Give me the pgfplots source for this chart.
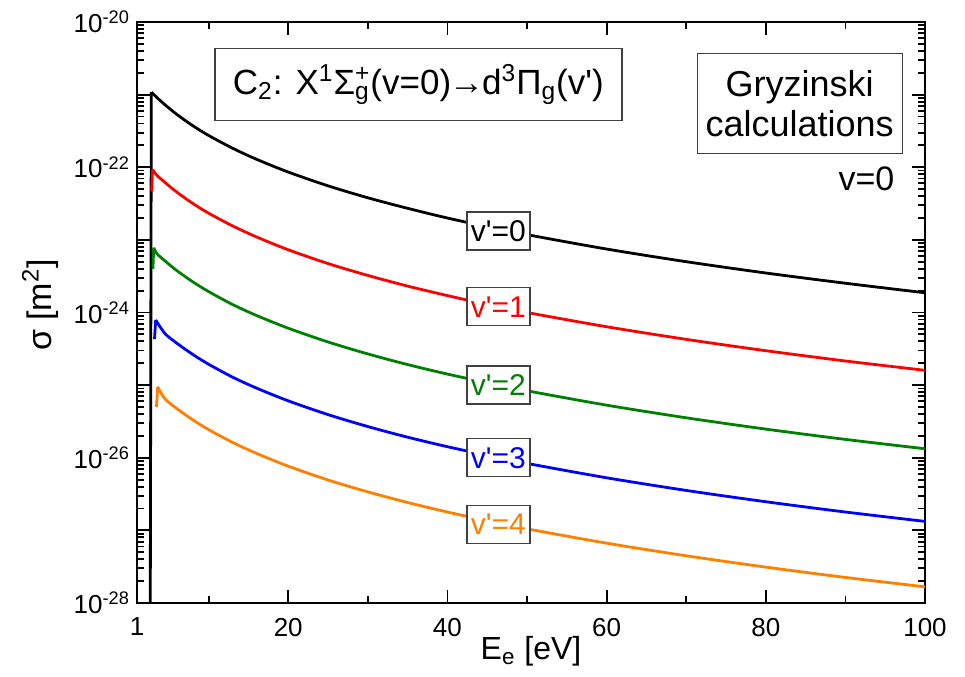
\documentclass[border=0pt]{standalone}
\usepackage{fontspec}
\setmainfont{Liberation Sans}
\usepackage{pgfplots}
\pgfplotsset{compat=1.18}
\usetikzlibrary{calc}
\definecolor{cgreen}{RGB}{0,128,0}
\definecolor{corange}{RGB}{255,128,0}
\newcommand\q{\textquotesingle}
\newcommand\fs[1]{\fontsize{#1}{#1}\selectfont}
\newcommand\supsub[2]{\rlap{\textsubscript{#2}}\textsuperscript{#1}}

\begin{document}
\begin{tikzpicture}
\begin{axis}[
    name=ax,
    width=394pt, height=290.5pt, scale only axis,
    xmin=1, xmax=100,
    ymode=log, ymin=1e-28, ymax=1e-20,
    xtick={1,20,40,60,80,100},
    xticklabels={1,20,40,60,80,100},
    minor xtick={10,30,50,70,90},
    ytickten={-28,-27,...,-20},
    yticklabels={10\textsuperscript{-28},,10\textsuperscript{-26},,10\textsuperscript{-24},,10\textsuperscript{-22},,10\textsuperscript{-20}},
    tick align=inside,
    major tick length=6.5pt, minor tick length=3.5pt,
    axis line style={line width=1.4pt},
    tick style={black, line width=0.9pt},
    tick label style={font=\fs{13}},
    xticklabel style={yshift=-4pt},
    xlabel={E\textsubscript{e} [eV]},
    xlabel style={font=\fs{16}, at={(axis description cs:0.5,0)}, anchor=north, yshift=-13pt},
    ylabel={σ [m\textsuperscript{2}]},
    ylabel style={font=\fs{17}, at={(axis description cs:-0.123,0.513)}, anchor=center},
    every axis plot/.append style={line width=1.4pt, no markers},
]
% threshold rises
\addplot[black]   coordinates {(2.65,1e-29) (2.8,1.08e-21)};
\addplot[red]     coordinates {(2.85,4.7e-23) (2.95,9.3e-23)};
\addplot[cgreen]  coordinates {(3.0,4.0e-24) (3.1,7.8e-24)};
\addplot[blue]    coordinates {(3.2,4.3e-25) (3.35,7.9e-25)};
\addplot[corange] coordinates {(3.45,5.0e-26) (3.6,9.5e-26)};
% v'=0
\addplot[black, smooth, tension=0.5] coordinates {
  (2.8,1.08e-21) (3.5,9.12e-22) (4.5,7.28e-22) (6,5.35e-22) (8,3.74e-22)
  (10,2.74e-22) (13,1.83e-22) (16,1.29e-22) (20,8.59e-23) (25,5.55e-23)
  (30,3.80e-23) (35,2.72e-23) (40,2.00e-23) (45,1.52e-23) (50,1.18e-23)
  (60,7.48e-24) (70,5.01e-24) (80,3.50e-24) (90,2.53e-24) (100,1.87e-24)
};
% v'=1
\addplot[red, smooth, tension=0.5] coordinates {
  (2.95,9.3e-23) (3.5,7.76e-23) (4.5,6.19e-23) (6,4.55e-23) (8,3.18e-23)
  (10,2.33e-23) (13,1.56e-23) (16,1.10e-23) (20,7.31e-24) (25,4.72e-24)
  (30,3.24e-24) (35,2.31e-24) (40,1.71e-24) (45,1.29e-24) (50,1.00e-24)
  (60,6.37e-25) (70,4.27e-25) (80,2.98e-25) (90,2.15e-25) (100,1.60e-25)
};
% v'=2
\addplot[cgreen, smooth, tension=0.5] coordinates {
  (3.1,7.8e-24) (3.5,6.46e-24) (4.5,5.15e-24) (6,3.78e-24) (8,2.65e-24)
  (10,1.94e-24) (13,1.29e-24) (16,9.12e-25) (20,6.08e-25) (25,3.93e-25)
  (30,2.69e-25) (35,1.92e-25) (40,1.42e-25) (45,1.08e-25) (50,8.36e-26)
  (60,5.30e-26) (70,3.55e-26) (80,2.48e-26) (90,1.79e-26) (100,1.33e-26)
};
% v'=3
\addplot[blue, smooth, tension=0.5] coordinates {
  (3.35,7.9e-25) (4.5,5.15e-25) (6,3.78e-25) (8,2.65e-25)
  (10,1.94e-25) (13,1.29e-25) (16,9.12e-26) (20,6.08e-26) (25,3.93e-26)
  (30,2.69e-26) (35,1.92e-26) (40,1.42e-26) (45,1.08e-26) (50,8.36e-27)
  (60,5.30e-27) (70,3.55e-27) (80,2.48e-27) (90,1.79e-27) (100,1.33e-27)
};
% v'=4
\addplot[corange, smooth, tension=0.5] coordinates {
  (3.6,9.5e-26) (4.5,6.49e-26) (6,4.76e-26) (8,3.33e-26)
  (10,2.44e-26) (13,1.63e-26) (16,1.15e-26) (20,7.66e-27) (25,4.94e-27)
  (30,3.39e-27) (35,2.42e-27) (40,1.79e-27) (45,1.36e-27) (50,1.05e-27)
  (60,6.67e-28) (70,4.47e-28) (80,3.12e-28) (90,2.25e-28) (100,1.67e-28)
};

\tikzset{lbl/.style={draw=black!75, line width=0.7pt, fill=white,
  minimum width=31.5pt, minimum height=19pt, inner sep=1pt, font=\fs{15}}}
\node[lbl, text=black]   at (axis cs:46.4,1.32e-23) {v\q=0};
\node[lbl, text=red]     at (axis cs:46.4,1.2e-24)  {v\q=1};
\node[lbl, text=cgreen]  at (axis cs:46.4,1.0e-25)  {v\q=2};
\node[lbl, text=blue]    at (axis cs:46.4,1.0e-26)  {v\q=3};
\node[lbl, text=corange] at (axis cs:46.4,1.2e-27)  {v\q=4};

\node[draw=black!75, line width=0.7pt, fill=white, minimum width=203.5pt,
  minimum height=36pt, font=\fs{17.5}] at (rel axis cs:0.357,0.892)
  {C\textsubscript{2}: X\textsuperscript{1}Σ\supsub{+}{g}(v=0)\kern-1pt→\kern-1pt d\textsuperscript{3}Π\textsubscript{g}(v\q)};
\node[draw=black!75, line width=0.7pt, fill=white, minimum width=102.5pt,
  minimum height=50pt, align=center, font=\fontsize{18}{20}\selectfont]
  at (rel axis cs:0.841,0.860) {Gryzinski\\calculations};
\node[anchor=east, font=\fs{17}] at (rel axis cs:0.97,0.731) {v=0};
\end{axis}
% minor ticks at 2..9 of each decade on the left and right axes
\foreach \k in {0,...,7} {
  \foreach \lm in {0.30103,0.47712,0.60206,0.69897,0.77815,0.84510,0.90309,0.95424} {
    \draw[black, line width=0.9pt] ($(ax.south west)!{(\k+\lm)/8}!(ax.north west)$) -- ++(3.5pt,0);
    \draw[black, line width=0.9pt] ($(ax.south east)!{(\k+\lm)/8}!(ax.north east)$) -- ++(-3.5pt,0);
  }
}
% minor ticks at 10, 30, 50, 70, 90 on the bottom and top axes
\foreach \xv in {10,30,50,70,90} {
  \draw[black, line width=0.9pt] ($(ax.south west)!{(\xv-1)/99}!(ax.south east)$) -- ++(0,3.5pt);
  \draw[black, line width=0.9pt] ($(ax.north west)!{(\xv-1)/99}!(ax.north east)$) -- ++(0,-3.5pt);
}
\pgfresetboundingbox
\path[use as bounding box] ([xshift=-68.5pt,yshift=-37pt]ax.south west)
  rectangle ([xshift=20pt,yshift=11pt]ax.north east);
\end{tikzpicture}
\end{document}
